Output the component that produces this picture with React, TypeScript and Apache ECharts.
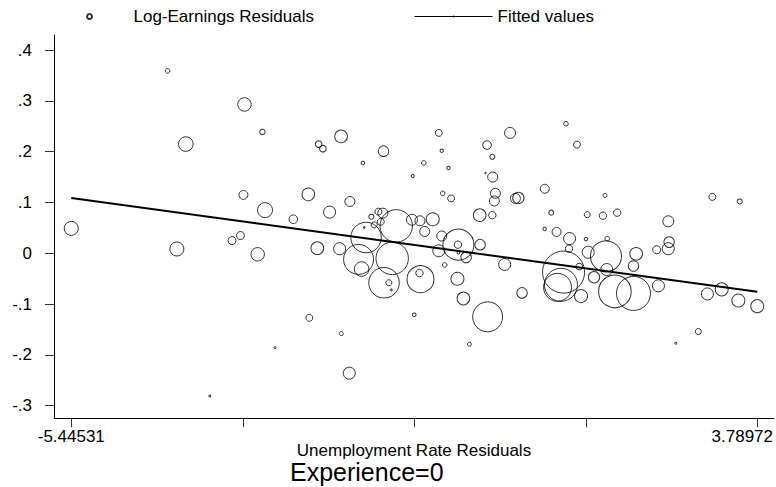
import React, { useEffect, useRef } from 'react';
import * as echarts from 'echarts';

// Unemployment rate residuals (x), log-earnings residuals (y), cell weights
const xResid = [
  -4.149, -3.903, -3.114, -2.872, -2.115, -2.058, -1.813, -1.242, -0.498, -0.458,
  0.152, 0.223, 0.461, 1.214, 1.362, -5.44531, -4.024, -3.128, -2.837, -3.168,
  -3.281, -2.936, -2.456, -2.254, -1.968, -2.133, -1.833, -1.695, -1.52, -1.477,
  -1.578, -1.537, -1.235, -1.17, -1.138, -1.406, -1.367, -1.311, -1.251, -1.279,
  -1.501, -0.848, -1.071, -1.125, -0.859, -2.241, -0.828, -0.7, -0.368, 0.228,
  0.129, -0.445, -0.332, 0.264, 0.25, 0.533, 0.573, 0.929, 1.017, 0.053,
  0.223, 0.927, 1.088, -0.751, -0.579, -0.687, -0.458, -0.234, -0.24, 0.058,
  -0.498, -0.13, -0.234, 0.389, -0.418, -0.744, -0.758, -0.247, -0.166, 0.623,
  0.16, 1.739, 1.501, 1.712, 1.904, 2.592, 1.263, 1.483, 1.769, 1.255,
  1.514, 1.753, 2.159, 2.435, 2.603, 2.592, 2.123, 1.763, 1.393, 1.182,
  1.147, 1.101, 1.592, 1.417, 1.873, 2.123, 2.459, 3.185, 3.553, 3.118,
  3.311, 3.535, 3.78972, -0.086, 2.997, 2.693, -3.581, -2.703, -1.81, -1.703,
];
const yResid = [
  0.359, 0.215, 0.293, 0.239, 0.215, 0.206, 0.23, 0.201, 0.237, 0.202,
  0.213, 0.19, 0.237, 0.255, 0.214, 0.049, 0.0085, 0.115, 0.085, 0.035,
  0.025, -0.002, 0.067, 0.116, 0.081, 0.01, 0.009, 0.102, 0.178, 0.031,
  -0.012, -0.031, -0.058, -0.058, -0.072, 0.072, 0.056, 0.082, 0.079, 0.062,
  0.051, 0.152, 0.054, -0.01, 0.066, -0.127, -0.121, 0.178, 0.168, 0.15,
  0.158, 0.118, 0.108, 0.118, 0.103, 0.108, 0.109, 0.127, 0.08, 0.075,
  0.075, 0.048, 0.042, 0.064, 0.067, 0.043, 0.034, 0.017, 0.017, 0.017,
  0.005, -0.008, 0.001, -0.022, -0.023, -0.051, -0.039, -0.05, -0.089, -0.078,
  -0.125, 0.114, 0.076, 0.074, 0.08, 0.063, 0.029, 0.028, 0.029, 0.009,
  0.002, -0.006, -0.001, 0.007, 0.022, 0.009, -0.025, -0.032, -0.026, -0.037,
  -0.062, -0.067, -0.047, -0.084, -0.075, -0.079, -0.064, 0.111, 0.102, -0.08,
  -0.071, -0.093, -0.104, -0.179, -0.154, -0.177, -0.281, -0.186, -0.158, -0.236,
];
const weights = [
  5.3, 53, 45, 7.3, 11, 11, 40, 28, 12, 2.9,
  18.5, 6.3, 30, 5.3, 12, 49, 49, 20, 56, 16,
  16, 45, 18.5, 40, 36, 40, 36, 25, 3.2, 234,
  225, 53, 234, 9, 1, 6.3, 9, 12, 25, 12,
  0.6, 2.3, 262, 262, 30, 12, 3.2, 5.3, 2.9, 25,
  0.5, 5.3, 12, 25, 25, 25, 32, 20, 6.3, 40,
  13.7, 2.9, 20, 25, 42, 25, 25, 240, 13.7, 28,
  36, 28, 1.7, 36, 5.3, 182, 13.7, 42, 40, 28,
  225, 4, 9, 13.7, 13.7, 30, 36, 2.9, 5.3, 13.7,
  36, 240, 40, 16, 28, 36, 28, 36, 11, 441,
  272, 196, 32, 42, 266, 289, 36, 12, 6.3, 36,
  42, 42, 42, 4, 9, 1, 1, 1, 4, 36,
];

// Fitted regression line, read at the two ends of the x range
const fittedX = [-5.44531, 3.78972];
const fittedY = [0.1087, -0.0759];

const xTickValues = [-5.44531, -3.13655, -0.82779, 1.48097, 3.78972];
const xLabelValues = [-5.44531, 3.78972];
const yTickValues = [-0.3, -0.2, -0.1, 0, 0.1, 0.2, 0.3, 0.4];

const FONT = 'Liberation Sans, Arial, Helvetica, sans-serif';
const FS = 17;

function fmtY(v: number): string {
  if (Math.abs(v) < 1e-9) return '0';
  const s = Math.abs(v).toFixed(1).replace(/^0/, '');
  return (v < 0 ? '-' : '') + s;
}

export default function App() {
  const ref = useRef<HTMLDivElement>(null);
  useEffect(() => {
    const chart = echarts.init(ref.current!, null, { renderer: 'svg' });
    const scatterData = xResid.map((x, i) => [x, yResid[i], weights[i]]);
    const lineData = fittedX.map((x, i) => [x, fittedY[i]]);
    chart.setOption({
      animation: false,
      backgroundColor: '#fff',
      textStyle: { fontFamily: FONT },
      title: {
        text: 'Experience=0',
        left: 290,
        top: 459,
        padding: 0,
        textStyle: { fontSize: 25, fontWeight: 'normal', color: '#000', fontFamily: FONT },
      },
      legend: [
        {
          data: ['Log-Earnings Residuals'],
          left: 86,
          top: 8,
          padding: 0,
          itemWidth: 78,
          itemHeight: 5,
          itemGap: 0,
          textStyle: { fontSize: FS, color: '#000', fontFamily: FONT },
          selectedMode: false,
        },
        {
          data: ['Fitted values'],
          left: 414,
          top: 8,
          padding: 0,
          itemWidth: 78,
          itemHeight: 2,
          itemGap: 0,
          lineStyle: { width: 1 },
          textStyle: { fontSize: FS, color: '#000', fontFamily: FONT },
          selectedMode: false,
        },
      ],
      grid: { left: 54, right: 1, top: 35, bottom: 68.7, containLabel: false },
      xAxis: {
        type: 'value',
        min: -5.6779,
        max: 4.0142,
        name: 'Unemployment Rate Residuals',
        nameLocation: 'middle',
        nameGap: 24,
        nameMoveOverlap: false,
        nameTextStyle: { fontSize: FS, color: '#000', fontFamily: FONT },
        axisLine: { show: true, onZero: false, lineStyle: { color: '#000', width: 1 } },
        axisTick: { show: true, length: 9, customValues: xTickValues, lineStyle: { color: '#333' } },
        axisLabel: {
          show: true,
          customValues: xLabelValues,
          margin: 10,
          fontSize: FS,
          color: '#000',
          fontFamily: FONT,
          formatter: (v: number) => (v > 0 ? '{r|' + String(v) + '}' : String(v)),
          rich: { r: { fontSize: FS, color: '#000', fontFamily: FONT, padding: [0, 30, 0, 0] } },
        },
        splitLine: { show: false },
      },
      yAxis: {
        type: 'value',
        min: -0.3248,
        max: 0.4297,
        axisLine: { show: true, onZero: false, lineStyle: { color: '#000', width: 1 } },
        axisTick: { show: true, length: 9, customValues: yTickValues, lineStyle: { color: '#333' } },
        axisLabel: {
          show: true,
          customValues: yTickValues,
          margin: 22,
          fontSize: FS,
          color: '#000',
          fontFamily: FONT,
          formatter: (v: number) => fmtY(v),
        },
        splitLine: { show: false },
      },
      series: [
        {
          name: 'Log-Earnings Residuals',
          type: 'scatter',
          data: scatterData,
          symbol: 'circle',
          symbolSize: (d: number[]) => 2 * Math.sqrt(d[2]),
          itemStyle: { color: 'rgba(255,255,255,0)', borderColor: '#000', borderWidth: 1 },
          emphasis: { disabled: true },
          silent: true,
          z: 2,
        },
        {
          name: 'Fitted values',
          type: 'line',
          data: lineData,
          symbol: 'circle',
          showSymbol: false,
          lineStyle: { color: '#000', width: 2 },
          itemStyle: { color: '#000' },
          emphasis: { disabled: true },
          silent: true,
          z: 3,
        },
      ],
    });
    return () => chart.dispose();
  }, []);
  return (
    <div
      ref={ref}
      style={{ position: 'absolute', left: 0, top: 0, width: 776, height: 487 }}
    />
  );
}
